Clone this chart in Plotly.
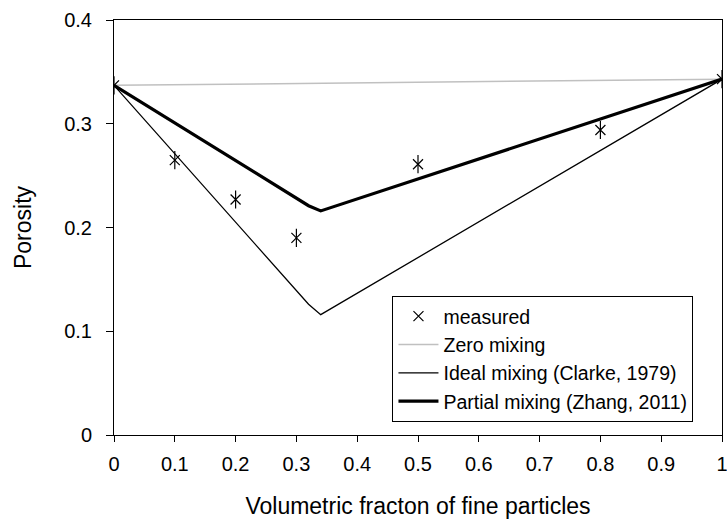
import plotly.graph_objects as go

# measured data
meas_x = [0, 0.1, 0.2, 0.3, 0.5, 0.8, 1.0]
meas_y = [0.337, 0.265, 0.227, 0.190, 0.261, 0.294, 0.343]

# model curves
zero_x = [0, 1.0]
zero_y = [0.337, 0.343]

ideal_x = [0, 0.32, 0.34, 1.0]
ideal_y = [0.337, 0.126, 0.116, 0.343]

partial_x = [0, 0.32, 0.34, 1.0]
partial_y = [0.337, 0.221, 0.216, 0.343]

x_ticks = [0, 0.1, 0.2, 0.3, 0.4, 0.5, 0.6, 0.7, 0.8, 0.9, 1.0]
x_ticklabels = ["0", "0.1", "0.2", "0.3", "0.4", "0.5", "0.6", "0.7", "0.8", "0.9", "1"]
y_ticks = [0, 0.1, 0.2, 0.3, 0.4]
y_ticklabels = ["0", "0.1", "0.2", "0.3", "0.4"]

FONT = "Liberation Sans, Arial, sans-serif"

fig = go.Figure()
fig.add_trace(go.Scatter(x=zero_x, y=zero_y, mode="lines", name="Zero mixing",
                         line=dict(color="#c0c0c0", width=1.5), legendgroup="b", legendrank=2))
fig.add_trace(go.Scatter(x=ideal_x, y=ideal_y, mode="lines", name="Ideal mixing (Clarke, 1979)",
                         line=dict(color="black", width=1.3), legendgroup="c", legendrank=3))
fig.add_trace(go.Scatter(x=partial_x, y=partial_y, mode="lines", name="Partial mixing (Zhang, 2011)",
                         line=dict(color="black", width=3.2), legendgroup="d", legendrank=4))
fig.add_trace(go.Scatter(x=meas_x, y=meas_y, mode="markers", name="measured",
                         marker=dict(symbol="x-thin-open", size=10, color="black",
                                     line=dict(color="black", width=1.2)),
                         legendgroup="a", legendrank=1))
fig.add_trace(go.Scatter(x=meas_x, y=meas_y, mode="markers", showlegend=False,
                         marker=dict(symbol="line-ns-open", size=13, color="black",
                                     line=dict(color="black", width=1.2)),
                         legendgroup="a"))

fig.update_layout(
    width=727, height=519,
    margin=dict(l=114, r=5, t=20, b=84, autoexpand=False),
    paper_bgcolor="white", plot_bgcolor="white",
    font=dict(family=FONT, size=20, color="black"),
    showlegend=True,
    legend=dict(x=0.458, y=0.335, xanchor="left", yanchor="top",
                bordercolor="black", borderwidth=1, bgcolor="white",
                font=dict(family=FONT, size=19.5, color="black"),
                tracegroupgap=0, traceorder="grouped", itemwidth=40),
    xaxis=dict(range=[0, 1.0], tickvals=x_ticks, ticktext=x_ticklabels,
               showgrid=False, zeroline=False, showline=True, linecolor="black", linewidth=1,
               mirror=True, ticks="outside", ticklen=6, tickcolor="black",
               ticklabeloverflow="allow", ticklabelstandoff=5, automargin=False,
               title=dict(text="Volumetric fracton of fine particles", standoff=26,
                          font=dict(size=23)),
               tickfont=dict(size=20)),
    yaxis=dict(range=[0, 0.4], tickvals=y_ticks, ticktext=y_ticklabels,
               showgrid=False, zeroline=False, showline=True, linecolor="black", linewidth=1,
               mirror=True, ticks="outside", ticklen=7, tickcolor="black",
               ticklabelstandoff=10, automargin=False,
               title=dict(text="Porosity", standoff=26, font=dict(size=23)),
               tickfont=dict(size=20)),
)

fig.write_html("out.html")
